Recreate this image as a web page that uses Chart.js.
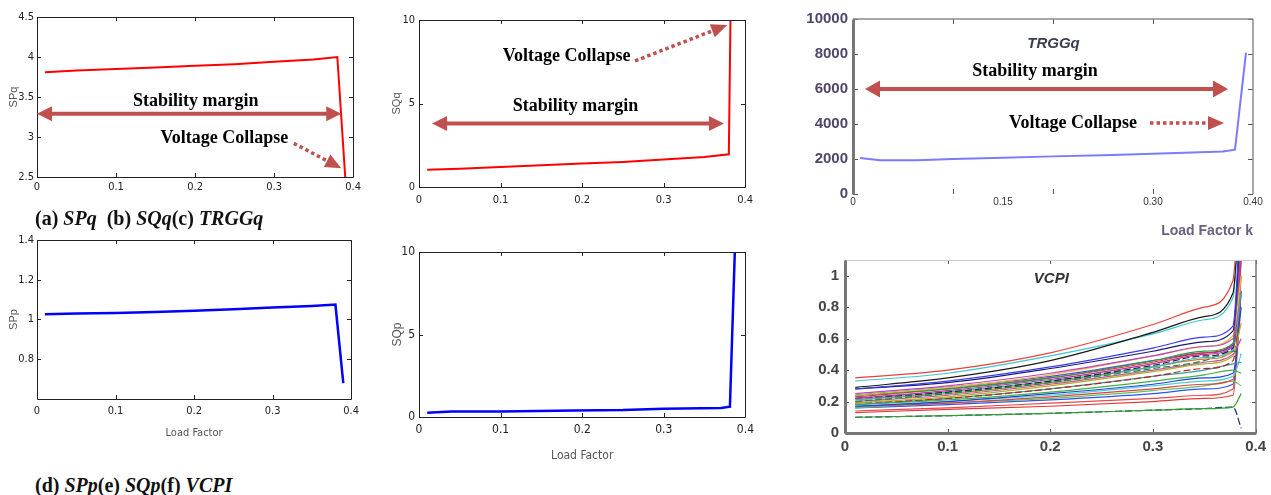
<!DOCTYPE html>
<html>
<head>
<meta charset="utf-8">
<script src="https://cdn.jsdelivr.net/npm/chart.js@4.4.1/dist/chart.umd.min.js"></script>
<style>
  html, body { margin: 0; padding: 0; background: #fff; }
  body { position: relative; width: 1271px; height: 495px; overflow: hidden; }
  canvas { position: absolute; }
  .cap { position: absolute; left: 35px; font: bold 20px/24px 'Liberation Serif', 'Times New Roman', serif; color: #111; white-space: pre; }
</style>
</head>
<body>
<canvas id="cA"></canvas>
<canvas id="cB"></canvas>
<canvas id="cC"></canvas>
<canvas id="cD"></canvas>
<canvas id="cE"></canvas>
<canvas id="cF"></canvas>
<div class="cap" style="top:206px">(a) <i>SPq</i>  (b) <i>SQq</i>(c) <i>TRGGq</i></div>
<div class="cap" style="top:473px">(d) <i>SPp</i>(e) <i>SQp</i>(f) <i>VCPI</i></div>
<script>
// load factor ticks shared by most panels
const loadTicks = [0, 0.1, 0.2, 0.3, 0.4];

// (a) SPq
const spqX = [0.01, 0.05, 0.1, 0.15, 0.2, 0.25, 0.3, 0.35, 0.38, 0.39];
const spqY = [3.81, 3.83, 3.85, 3.87, 3.89, 3.91, 3.94, 3.97, 4.0, 2.5];
const spqTicks = [2.5, 3, 3.5, 4, 4.5];

// (b) SQq
const sqqX = [0.01, 0.05, 0.1, 0.15, 0.2, 0.25, 0.3, 0.35, 0.38, 0.382];
const sqqY = [1.04, 1.1, 1.2, 1.3, 1.4, 1.5, 1.64, 1.8, 1.96, 10];
const sqTicks = [0, 5, 10];

// (c) TRGGq
const trggX = [0.007, 0.027, 0.064, 0.1, 0.15, 0.2, 0.25, 0.3, 0.37, 0.382, 0.393];
const trggY = [2060, 1930, 1930, 2000, 2070, 2150, 2220, 2300, 2430, 2530, 8080];
const trggYTicks = [0, 2000, 4000, 6000, 8000, 10000];
const trggXTicks = [0, 0.15, 0.30, 0.40];
const trggXLabels = ['0', '0.15', '0.30', '0.40'];
const trggMarks = [0.1, 0.2, 0.3];

// (d) SPp
const sppX = [0.01, 0.05, 0.1, 0.15, 0.2, 0.25, 0.3, 0.35, 0.38, 0.39];
const sppY = [1.027, 1.03, 1.033, 1.038, 1.044, 1.051, 1.06, 1.068, 1.075, 0.68];
const sppTicks = [0.8, 1, 1.2, 1.4];

// (e) SQp
const sqpX = [0.01, 0.04, 0.1, 0.19, 0.25, 0.3, 0.37, 0.381, 0.387];
const sqpY = [0.26, 0.33, 0.34, 0.4, 0.42, 0.5, 0.55, 0.62, 10];

// (f) VCPI, one row per bus
const vcpiX = [0.01, 0.1, 0.2, 0.3, 0.35, 0.378, 0.386];
const vcpiY = [
  [0.35, 0.40, 0.51, 0.69, 0.80, 0.97, 1.8],
  [0.29, 0.35, 0.46, 0.64, 0.74, 0.89, 1.7],
  [0.33, 0.38, 0.49, 0.63, 0.72, 0.86, 1.6],
  [0.28, 0.33, 0.42, 0.54, 0.61, 0.68, 1.5],
  [0.28, 0.32, 0.41, 0.52, 0.58, 0.65, 1.4],
  [0.25, 0.30, 0.38, 0.49, 0.55, 0.60, 1.3],
  [0.24, 0.29, 0.37, 0.49, 0.55, 0.62, 1.0],
  [0.24, 0.28, 0.35, 0.46, 0.52, 0.57, 1.3],
  [0.23, 0.28, 0.35, 0.45, 0.51, 0.57, 1.2],
  [0.24, 0.29, 0.36, 0.46, 0.51, 0.56, 1.5],
  [0.22, 0.27, 0.34, 0.44, 0.50, 0.55, 1.1],
  [0.22, 0.26, 0.33, 0.43, 0.49, 0.54, 1.3],
  [0.21, 0.26, 0.33, 0.42, 0.48, 0.53, 0.9],
  [0.20, 0.25, 0.32, 0.41, 0.46, 0.52, 0.5],
  [0.21, 0.25, 0.32, 0.42, 0.47, 0.52, 1.0],
  [0.20, 0.24, 0.31, 0.40, 0.45, 0.50, 0.6],
  [0.19, 0.23, 0.30, 0.39, 0.44, 0.49, 0.7],
  [0.19, 0.22, 0.28, 0.36, 0.41, 0.46, 0.9],
  [0.18, 0.22, 0.28, 0.36, 0.40, 0.44, 0.45],
  [0.18, 0.21, 0.26, 0.33, 0.37, 0.40, 0.38],
  [0.17, 0.20, 0.25, 0.31, 0.35, 0.38, 0.8],
  [0.17, 0.20, 0.24, 0.30, 0.33, 0.36, 0.5],
  [0.17, 0.19, 0.23, 0.28, 0.31, 0.34, 1.0],
  [0.16, 0.19, 0.22, 0.27, 0.30, 0.33, 0.3],
  [0.16, 0.18, 0.21, 0.25, 0.28, 0.31, 0.9],
  [0.14, 0.16, 0.19, 0.22, 0.24, 0.28, 1.1],
  [0.13, 0.15, 0.17, 0.20, 0.22, 0.24, 0.9],
  [0.10, 0.11, 0.125, 0.145, 0.155, 0.165, 0.25],
  [0.10, 0.11, 0.125, 0.145, 0.155, 0.165, 0.03]
];
const vcpiTicks = [0, 0.2, 0.4, 0.6, 0.8, 1];

// styles
const vcpiColors = ['#e8413c', '#1a1a1a', '#3cc8d0', '#3b3bf0', '#1b1b6e', '#c040c0', '#d8c840', '#20a040',
  '#e03030', '#6040e0', '#b030b0', '#222222', '#30b8c0', '#109040', '#e07020', '#c050a0', '#b0b020',
  '#c02020', '#30a0a0', '#40b040', '#2040e0', '#50d0d0', '#e04040', '#60c060', '#3050f0', '#e84848',
  '#e03a3a', '#30a030', '#1e2a70'];
const vcpiDashed = [11, 13, 17, 28];

const NARROW = "'Liberation Sans Narrow', 'DejaVu Sans Condensed', 'Liberation Sans', sans-serif";
const ARIAL = "'Liberation Sans', Arial, sans-serif";
const SERIF = "'Liberation Serif', 'Times New Roman', serif";
const ARROW = '#c0504d';
const NOTE_FONT = 'bold 18px ' + SERIF;

function pts(xs, ys) { return xs.map((x, i) => ({x: x, y: ys[i]})); }

function axis(o) {
  return {
    type: 'linear', min: o.min, max: o.max,
    grid: {display: false, drawTicks: false},
    border: {display: false},
    afterBuildTicks: s => { s.ticks = o.ticks.map(v => ({value: v})); },
    afterFit: o.fit,
    ticks: {
      autoSkip: false, maxRotation: 0, padding: o.pad,
      color: o.color || '#222', font: o.font,
      callback: o.labels ? (v, i) => o.labels[i] : v => String(v)
    },
    title: {display: !!o.title, text: o.title || '', color: o.tcolor || '#555', font: o.tfont,
      padding: 0, align: o.talign || 'center'}
  };
}

function head(ctx, x0, y0, x1, y1, len, half) {
  const a = Math.atan2(y1 - y0, x1 - x0), c = Math.cos(a), s = Math.sin(a);
  ctx.beginPath();
  ctx.moveTo(x1, y1);
  ctx.lineTo(x1 - len * c + half * s, y1 - len * s - half * c);
  ctx.lineTo(x1 - len * c - half * s, y1 - len * s + half * c);
  ctx.closePath();
  ctx.fill();
}

// box, inner tick marks and the arrows / notes of a panel
function frame(d) {
  return {
    id: 'frame',
    afterDatasetsDraw(chart) {
      const {ctx, chartArea: a, scales: {x, y}} = chart;
      const L = Math.round(a.left), R = Math.round(a.right), T = Math.round(a.top), B = Math.round(a.bottom);
      ctx.save();
      ctx.strokeStyle = d.tickColor || '#222';
      ctx.lineWidth = 1;
      ctx.beginPath();
      for (const v of d.xMarks) {
        const p = Math.round(x.getPixelForValue(v)) + 0.5;
        if (d.marks.includes('b')) { ctx.moveTo(p, B); ctx.lineTo(p, B - d.len); }
        if (d.marks.includes('t')) { ctx.moveTo(p, T); ctx.lineTo(p, T + d.len); }
      }
      for (const v of d.yMarks) {
        const p = Math.round(y.getPixelForValue(v)) + 0.5;
        if (d.marks.includes('l')) { ctx.moveTo(L, p); ctx.lineTo(L + d.len, p); }
        if (d.marks.includes('r')) { ctx.moveTo(R, p); ctx.lineTo(R - d.len, p); }
      }
      ctx.stroke();

      const seg = {l: [L, T, L, B], r: [R, T, R, B], t: [L, T, R, T], b: [L, B, R, B]};
      for (const [side, color, w] of d.sides) {
        const o = w % 2 === 1 ? 0.5 : 0, s = seg[side];
        ctx.strokeStyle = color;
        ctx.lineWidth = w;
        ctx.beginPath();
        ctx.moveTo(s[0] + o, s[1] + o);
        ctx.lineTo(s[2] + o, s[3] + o);
        ctx.stroke();
      }

      for (const n of d.notes || []) {
        ctx.fillStyle = n.color || ARROW;
        ctx.strokeStyle = n.color || ARROW;
        if (n.k === 'txt') {
          ctx.font = n.font || NOTE_FONT;
          ctx.fillStyle = n.color || '#000';
          ctx.textAlign = 'center';
          ctx.textBaseline = 'middle';
          ctx.fillText(n.s, x.getPixelForValue(n.x), y.getPixelForValue(n.y));
        } else if (n.k === 'dbl') {
          const py = y.getPixelForValue(n.y), x0 = x.getPixelForValue(n.x0), x1 = x.getPixelForValue(n.x1);
          ctx.lineWidth = 4;
          ctx.setLineDash([]);
          ctx.beginPath();
          ctx.moveTo(x0 + 10, py);
          ctx.lineTo(x1 - 10, py);
          ctx.stroke();
          head(ctx, x1, py, x0, py, 15, n.half || 7.5);
          head(ctx, x0, py, x1, py, 15, n.half || 7.5);
        } else if (n.k === 'dot') {
          const x0 = x.getPixelForValue(n.x0), y0 = y.getPixelForValue(n.y0);
          const x1 = x.getPixelForValue(n.x1), y1 = y.getPixelForValue(n.y1);
          const ang = Math.atan2(y1 - y0, x1 - x0), len = 16;
          ctx.lineWidth = 3.5;
          ctx.lineCap = 'butt';
          ctx.setLineDash([3.5, 3]);
          ctx.beginPath();
          ctx.moveTo(x0, y0);
          ctx.lineTo(x1 - len * Math.cos(ang), y1 - len * Math.sin(ang));
          ctx.stroke();
          ctx.setLineDash([]);
          head(ctx, x0, y0, x1, y1, len, 7);
        }
      }
      ctx.restore();
    }
  };
}

// box = [left, top, width, height] of the canvas, area = [left, top, right, bottom] of the plot
function panel(id, box, area, xs, ys, datasets, deco) {
  const cv = document.getElementById(id);
  cv.width = box[2];
  cv.height = box[3];
  cv.style.left = box[0] + 'px';
  cv.style.top = box[1] + 'px';
  xs.fit = s => { s.height = box[1] + box[3] - area[3]; };
  ys.fit = s => { s.width = area[0] - box[0]; };
  return new Chart(cv, {
    type: 'line',
    data: {datasets: datasets},
    options: {
      responsive: false, animation: false, events: [],
      layout: {padding: {left: 0, bottom: 0, top: area[1] - box[1], right: box[0] + box[2] - area[2]}},
      plugins: {legend: {display: false}, tooltip: {enabled: false}},
      elements: {point: {radius: 0}, line: {tension: 0}},
      scales: {x: axis(xs), y: axis(ys)}
    },
    plugins: [frame(deco)]
  });
}

const matlabBox = [['l', '#222', 1], ['r', '#222', 1], ['t', '#222', 1], ['b', '#222', 1]];

// (a)
panel('cA', [7, 5, 358, 195], [37, 17, 355, 177],
  {min: 0, max: 0.4, ticks: loadTicks, pad: 4, font: {family: NARROW, size: 11}},
  {min: 2.5, max: 4.5, ticks: spqTicks, pad: 3, font: {family: NARROW, size: 11},
    title: 'SPq', tfont: {family: ARIAL, size: 11}},
  [{data: pts(spqX, spqY), borderColor: '#ff0000', borderWidth: 2}],
  {xMarks: loadTicks, yMarks: spqTicks, marks: 'btlr', len: 4, sides: matlabBox, notes: [
    {k: 'txt', s: 'Stability margin', x: 0.201, y: 3.44},
    {k: 'dbl', x0: 0.0, x1: 0.385, y: 3.29},
    {k: 'txt', s: 'Voltage Collapse', x: 0.237, y: 2.98},
    {k: 'dot', x0: 0.325, y0: 2.92, x1: 0.385, y1: 2.61}
  ]});

// (b)
panel('cB', [390, 5, 370, 210], [419, 20, 748, 187],
  {min: 0, max: 0.4, ticks: loadTicks, pad: 7, font: {family: NARROW, size: 11}},
  {min: 0, max: 10, ticks: sqTicks, pad: 4, font: {family: NARROW, size: 11},
    title: 'SQq', tfont: {family: ARIAL, size: 11}},
  [{data: pts(sqqX, sqqY), borderColor: '#ff0000', borderWidth: 2}],
  {xMarks: loadTicks, yMarks: sqTicks, marks: 'btlr', len: 4, sides: matlabBox, notes: [
    {k: 'txt', s: 'Voltage Collapse', x: 0.181, y: 7.8},
    {k: 'dot', x0: 0.265, y0: 7.55, x1: 0.378, y1: 9.7},
    {k: 'txt', s: 'Stability margin', x: 0.192, y: 4.85},
    {k: 'dbl', x0: 0.016, x1: 0.374, y: 3.8}
  ]});

// (c)
panel('cC', [795, 5, 476, 235], [853, 19, 1253, 194],
  {min: 0, max: 0.4, ticks: trggXTicks, labels: trggXLabels, pad: 2, color: '#333',
    font: {family: ARIAL, size: 10},
    title: 'Load Factor k', tcolor: '#6a6080', talign: 'end', tfont: {family: ARIAL, size: 14, weight: 'bold'}},
  {min: 0, max: 10000, ticks: trggYTicks, pad: 5, color: '#50456a',
    font: {family: ARIAL, size: 15, weight: 'bold'}},
  [{data: pts(trggX, trggY), borderColor: '#7b7bff', borderWidth: 2}],
  {xMarks: trggMarks, yMarks: trggYTicks, marks: 'btlr', len: 5, tickColor: '#555',
    sides: [['t', '#8a8a8a', 1.5], ['r', '#8a8a8a', 1.5], ['l', '#777', 3]], notes: [
    {k: 'txt', s: 'TRGGq', x: 0.2005, y: 8600, color: '#3a3f4f', font: 'italic bold 15px ' + ARIAL},
    {k: 'txt', s: 'Stability margin', x: 0.182, y: 7000},
    {k: 'dbl', x0: 0.012, x1: 0.375, y: 6000, half: 8.5},
    {k: 'txt', s: 'Voltage Collapse', x: 0.22, y: 4045},
    {k: 'dot', x0: 0.297, y0: 4060, x1: 0.371, y1: 4060}
  ]});

// (d)
panel('cD', [7, 228, 358, 212], [37, 240, 355, 399],
  {min: 0, max: 0.4, ticks: loadTicks, pad: 6, font: {family: NARROW, size: 11},
    title: 'Load Factor', tfont: {family: NARROW, size: 11}},
  {min: 0.6, max: 1.4, ticks: sppTicks, pad: 3, font: {family: NARROW, size: 11},
    title: 'SPp', tfont: {family: ARIAL, size: 11}},
  [{data: pts(sppX, sppY), borderColor: '#0000ff', borderWidth: 2.5}],
  {xMarks: loadTicks, yMarks: sppTicks, marks: 'btlr', len: 4, sides: matlabBox});

// (e)
panel('cE', [390, 240, 370, 223], [419, 252, 748, 417],
  {min: 0, max: 0.4, ticks: loadTicks, pad: 6, font: {family: NARROW, size: 12},
    title: 'Load Factor', tfont: {family: NARROW, size: 12}},
  {min: 0, max: 10, ticks: sqTicks, pad: 4, font: {family: NARROW, size: 12},
    title: 'SQp', tfont: {family: ARIAL, size: 12}},
  [{data: pts(sqpX, sqpY), borderColor: '#0000ff', borderWidth: 2.5}],
  {xMarks: loadTicks, yMarks: sqTicks, marks: 'btlr', len: 4, sides: matlabBox});

// (f)
panel('cF', [795, 245, 476, 220], [845, 257, 1257, 433],
  {min: 0, max: 0.4, ticks: loadTicks, pad: 5, color: '#444', font: {family: ARIAL, size: 15, weight: 'bold'}},
  {min: 0, max: 1.1, ticks: vcpiTicks, pad: 6, color: '#444', font: {family: ARIAL, size: 15, weight: 'bold'}},
  vcpiY.map((row, i) => ({
    data: pts(vcpiX, row), borderColor: vcpiColors[i], borderWidth: 1.2,
    borderDash: vcpiDashed.includes(i) ? [7, 3] : [], cubicInterpolationMode: 'monotone'
  })),
  {xMarks: loadTicks, yMarks: vcpiTicks, marks: 'btlr', len: 4, tickColor: '#555',
    sides: [['t', '#ccc', 1], ['r', '#777', 1.5], ['l', '#777', 3], ['b', '#777', 3]], notes: [
    {k: 'txt', s: 'VCPI', x: 0.201, y: 0.977, color: '#333', font: 'italic bold 15px ' + ARIAL}
  ]});
</script>
</body>
</html>
